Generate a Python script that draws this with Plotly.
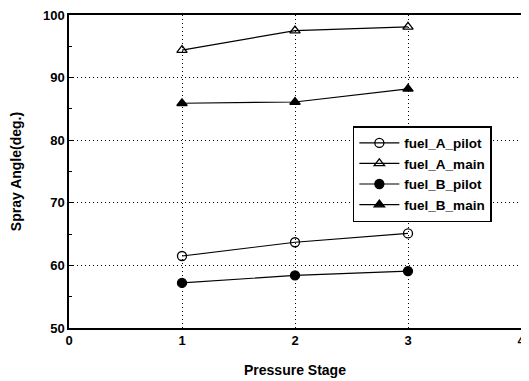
import plotly.graph_objects as go

stages = [1, 2, 3]
fuel_A_pilot = [61.5, 63.7, 65.1]
fuel_A_main = [94.4, 97.5, 98.1]
fuel_B_pilot = [57.2, 58.4, 59.1]
fuel_B_main = [85.9, 86.1, 88.2]
x_ticks = [0, 1, 2, 3, 4]
y_ticks = [50, 60, 70, 80, 90, 100]

series = [
    ("fuel_A_pilot", fuel_A_pilot, "circle-open"),
    ("fuel_A_main", fuel_A_main, "triangle-up-open"),
    ("fuel_B_pilot", fuel_B_pilot, "circle"),
    ("fuel_B_main", fuel_B_main, "triangle-up"),
]

fig = go.Figure()
for name, vals, sym in series:
    fig.add_trace(go.Scatter(
        x=stages, y=vals, name=name, mode="lines+markers",
        line=dict(color="black", width=1.2),
        marker=dict(symbol=sym, size=9, color="black", line=dict(color="black", width=1.3)),
    ))

fam = "Liberation Sans, Arial, sans-serif"
# page body has an 8px default margin, so the figure is sized to fit the window
fig.update_layout(
    width=521, height=373,
    margin=dict(l=61, r=8, t=7, b=53, autoexpand=False),
    paper_bgcolor="white", plot_bgcolor="white",
    font=dict(size=13, family=fam, color="black"),
    showlegend=True,
    legend=dict(
        x=0.628, y=0.645, xanchor="left", yanchor="top",
        bordercolor="black", borderwidth=1.5, bgcolor="white",
        font=dict(size=13.5, family=fam, color="black", weight="bold"),
        tracegroupgap=0, itemwidth=40,
    ),
    xaxis=dict(
        range=[0, 4], tickvals=x_ticks, showgrid=True,
        gridcolor="black", griddash="1px,3px", gridwidth=1,
        showline=True, linecolor="black", linewidth=1.5, mirror=True,
        ticks="", tickfont=dict(size=13, weight="bold"), ticklabeloverflow="allow",
        title=dict(text="<b>Pressure Stage</b>", font=dict(size=14), standoff=18),
        zeroline=False, automargin=False,
    ),
    yaxis=dict(
        range=[50, 100], tickvals=y_ticks, showgrid=True,
        gridcolor="black", griddash="1px,3px", gridwidth=1,
        showline=True, linecolor="black", linewidth=1.5, mirror=True,
        ticks="inside", ticklen=4, tickcolor="black",
        minor=dict(tickvals=[55, 65, 75, 85, 95], ticks="inside", ticklen=3, tickcolor="black", showgrid=False),
        tickfont=dict(size=13, weight="bold"), ticklabeloverflow="allow",
        title=dict(text="<b>Spray Angle(deg.)</b>", font=dict(size=14), standoff=24),
        zeroline=False, automargin=False,
    ),
)
fig.write_html("out.html")
